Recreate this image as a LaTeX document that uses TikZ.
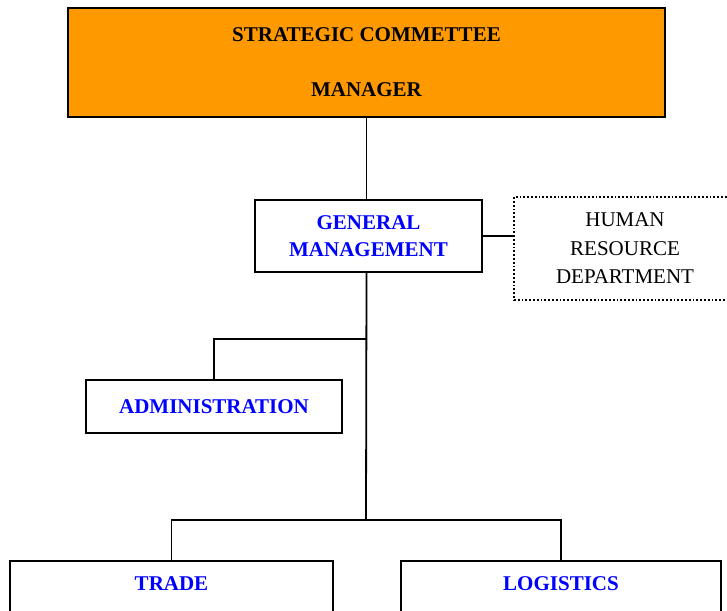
\documentclass[tikz,border=0pt]{standalone}
\usepackage{fontspec}
\setmainfont{Liberation Serif}
\definecolor{boardorange}{HTML}{FF9900}
\tikzset{
  unit/.style={draw, line width=1.8pt, font=\fontsize{21}{27}\selectfont\bfseries, text=blue, align=center, inner sep=0pt},
  link/.style={line width=1.8pt},
}
\begin{document}
\begin{tikzpicture}[x=1pt,y=-1pt]
    \useasboundingbox (0,0) rectangle (727,610);
    \clip (0,0) rectangle (727,610);
    \node[unit, fill=boardorange, text=black, minimum width=597, minimum height=109,
          font=\fontsize{21}{55}\selectfont\bfseries] (board) at (366.5,62.5) {STRATEGIC COMMETTEE\\MANAGER};
    \node[unit, minimum width=227, minimum height=72] (general) at (368.5,236) {GENERAL\\MANAGEMENT};
    \node[unit, dotted, line width=1.3pt, text=black, font=\fontsize{21}{28.5}\selectfont,
          minimum width=222, minimum height=103] (hr) at (625,248.5) {HUMAN\\RESOURCE\\DEPARTMENT};
    \node[unit, minimum width=256, minimum height=53] (admin) at (214,406.5) {ADMINISTRATION};
    \node[unit, anchor=north, minimum width=323, text height=30, text depth=60] (trade) at (171.5,560) {TRADE};
    \node[unit, anchor=north, minimum width=320, text height=30, text depth=60] (logistics) at (561,560) {LOGISTICS};
    \coordinate (split) at (366,339);
    \coordinate (trunk) at (366,520);
    \draw[link] (board.south) -- (board.south |- general.north);
    \draw[link] (board.south |- general.south) -- (trunk);
    \draw[link] (split) -| (admin.north);
    \draw[link] (trade.north) |- (trunk) -| (logistics.north);
    \draw[link] (general.east) -- (general.east -| hr.west);
\end{tikzpicture}
\end{document}
